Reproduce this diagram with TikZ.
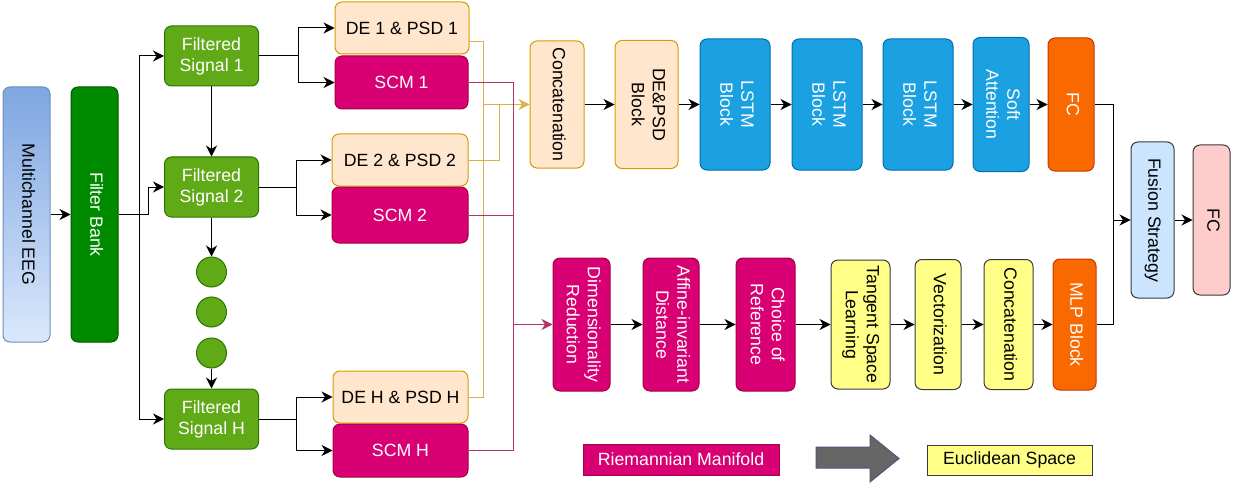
\documentclass[tikz,border=0pt]{standalone}
\usepackage{fontspec}
\setmainfont{Liberation Sans}
\usepackage{graphicx}
\usepackage{tikz}
\usetikzlibrary{arrows.meta}

\definecolor{eegtop}{HTML}{7EA6E0}
\definecolor{eegbottom}{HTML}{DAE8FC}
\definecolor{eegline}{HTML}{6C8EBF}
\definecolor{bankfill}{HTML}{008A00}
\definecolor{bankline}{HTML}{005700}
\definecolor{sigfill}{HTML}{60A917}
\definecolor{sigline}{HTML}{2D7600}
\definecolor{defill}{HTML}{FFE6CC}
\definecolor{deline}{HTML}{D79B00}
\definecolor{scmfill}{HTML}{D80073}
\definecolor{scmline}{HTML}{A50040}
\definecolor{scmwire}{HTML}{B8306E}
\definecolor{lstmfill}{HTML}{1BA1E2}
\definecolor{lstmline}{HTML}{006EAF}
\definecolor{fcfill}{HTML}{FA6800}
\definecolor{fcline}{HTML}{C73500}
\definecolor{fusionfill}{HTML}{CCE5FF}
\definecolor{outfill}{HTML}{FFCCCC}
\definecolor{darkline}{HTML}{36393D}
\definecolor{eucfill}{HTML}{FFFF88}
\definecolor{goldline}{HTML}{DDB04C}
\definecolor{legendgray}{HTML}{666666}
\definecolor{legendline}{HTML}{56517E}

\newcommand{\vtext}[1]{\rotatebox{-90}{\begin{tabular}{@{}c@{}}#1\end{tabular}}}

\tikzset{
  boxsize/.style 2 args={minimum width=#1, minimum height=#2},
  block/.style={draw, line width=1pt, rounded corners=7pt, inner sep=0pt,
    align=center, font=\fontsize{17.7}{21}\selectfont},
  eegblock/.style={block, top color=eegtop, bottom color=eegbottom, draw=eegline},
  bankblock/.style={block, fill=bankfill, draw=bankline, text=white},
  sigblock/.style={block, fill=sigfill, draw=sigline, text=white},
  sigdot/.style={circle, draw=sigline, fill=sigfill, line width=1pt,
    minimum size=30pt, inner sep=0pt},
  deblock/.style={block, fill=defill, draw=deline},
  scmblock/.style={block, fill=scmfill, draw=scmline, text=white},
  lstmblock/.style={block, fill=lstmfill, draw=lstmline, text=white},
  fcblock/.style={block, fill=fcfill, draw=fcline, text=white},
  fusionblock/.style={block, fill=fusionfill, draw=darkline},
  outblock/.style={block, fill=outfill, draw=darkline},
  eucblock/.style={block, fill=eucfill, draw=darkline},
  legendbox/.style={block, rounded corners=0pt},
  conn/.style={line width=1pt},
  arr/.style={conn, -{Stealth[length=11pt, width=11pt, inset=3.5pt]}},
  goldconn/.style={conn, draw=goldline},
  goldarr/.style={goldconn, -{Stealth[length=11pt, width=11pt, inset=3.5pt]}},
  scmconn/.style={conn, draw=scmwire},
  scmarr/.style={scmconn, -{Stealth[length=11pt, width=11pt, inset=3.5pt]}},
}

\begin{document}
\begin{tikzpicture}[x=1pt, y=-1pt]
  \useasboundingbox (0,0) rectangle (1234,484);

  % input and filter bank
  \node[eegblock, boxsize={47pt}{255pt}] (eeg) at (26.5,214.5) {\vtext{Multichannel EEG}};
  \node[bankblock, boxsize={47pt}{255pt}] (bank) at (94.5,214.5) {\vtext{Filter Bank}};

  % filtered signals
  \node[sigblock, boxsize={94pt}{60pt}] (sig1) at (211.5,56) {Filtered\\Signal 1};
  \node[sigblock, boxsize={94pt}{60pt}] (sig2) at (211.5,187) {Filtered\\Signal 2};
  \node[sigblock, boxsize={94pt}{60pt}] (sigH) at (211.5,419) {Filtered\\Signal H};
  \node[sigdot] (dotA) at (211.5,272) {};
  \node[sigdot] (dotB) at (211.5,312) {};
  \node[sigdot] (dotC) at (211.5,353) {};

  % features per band
  \node[deblock, boxsize={134pt}{52pt}] (de1) at (402,28) {DE 1 \& PSD 1};
  \node[scmblock, boxsize={133pt}{53pt}] (scm1) at (401.5,82.5) {SCM 1};
  \node[deblock, boxsize={136pt}{52pt}] (de2) at (400,160) {DE 2 \& PSD 2};
  \node[scmblock, boxsize={136pt}{56pt}] (scm2) at (400,215) {SCM 2};
  \node[deblock, boxsize={135pt}{52pt}] (deH) at (400.5,397) {DE H \& PSD H};
  \node[scmblock, boxsize={135pt}{53pt}] (scmH) at (400.5,450.5) {SCM H};

  % upper branch
  \node[deblock, boxsize={54pt}{127pt}] (concatDE) at (557,104.5) {\vtext{Concatenation}};
  \node[deblock, boxsize={63pt}{128pt}] (depsd) at (646.5,104.5) {\vtext{DE\&PSD\\Block}};
  \node[lstmblock, boxsize={70pt}{131pt}] (lstm1) at (735,104.5) {\vtext{LSTM\\Block}};
  \node[lstmblock, boxsize={70pt}{131pt}] (lstm2) at (827,104.5) {\vtext{LSTM\\Block}};
  \node[lstmblock, boxsize={70pt}{131pt}] (lstm3) at (918,104.5) {\vtext{LSTM\\Block}};
  \node[lstmblock, boxsize={56pt}{134pt}] (soft) at (1001,104.5) {\vtext{Soft\\Attention}};
  \node[fcblock, boxsize={46pt}{133pt}] (fcTop) at (1071,104.5) {\vtext{FC}};

  % lower branch
  \node[scmblock, boxsize={57pt}{133pt}] (dimred) at (581.5,324.5) {\vtext{Dimensionality\\Reduction}};
  \node[scmblock, boxsize={56pt}{133pt}] (affine) at (671,324.5) {\vtext{Affine-invariant\\Distance}};
  \node[scmblock, boxsize={59pt}{133pt}] (choice) at (765.5,324.5) {\vtext{Choice of\\Reference}};
  \node[eucblock, boxsize={59pt}{129pt}] (tangent) at (860.5,324.5) {\vtext{Tangent Space\\Learning}};
  \node[eucblock, boxsize={46pt}{130pt}] (vector) at (938,324.5) {\vtext{Vectorization}};
  \node[eucblock, boxsize={49pt}{130pt}] (concatSCM) at (1008.5,324.5) {\vtext{Concatenation}};
  \node[fcblock, boxsize={43pt}{131pt}] (mlp) at (1074.5,324.5) {\vtext{MLP Block}};

  % fusion
  \node[fusionblock, boxsize={43pt}{156pt}] (fusion) at (1152.5,220) {\vtext{Fusion Strategy}};
  \node[outblock, boxsize={37pt}{150pt}] (fcOut) at (1211.5,220) {\vtext{FC}};

  % legend
  \node[legendbox, fill=scmfill, draw=scmline, text=white, boxsize={196pt}{31pt}] (riem) at (681,459.5) {Riemannian Manifold};
  \node[legendbox, fill=eucfill, draw=darkline, boxsize={165pt}{30pt}] (eucl) at (1009.5,460) {Euclidean Space};
  \draw[fill=legendgray, draw=legendline, line width=1pt]
    (816,447) -- (870,447) -- (870,435) -- (899,458.5) -- (870,482) -- (870,468) -- (816,468) -- cycle;

  % junctions
  \coordinate (goldjoin) at (483,104.5);
  \coordinate (goldjoin2) at (499,104.5);
  \coordinate (scmjoin) at (513,324.5);
  \coordinate (fusejoin) at (1113,220);

  % connectors
  \draw[arr] (eeg) -- (bank);
  \draw[arr] (bank.east) -- ++(21,0) |- (sig1);
  \draw[arr] (bank.east) -- ++(21,0) |- (sigH);
  \draw[arr] (bank.east) -- ++(30,0) |- (sig2);
  \draw[arr] (sig1) -- (sig2);
  \draw[arr] (sig2) -- (dotA);
  \draw[arr] (dotC) -- (sigH);
  \draw[arr] (sig1.east) -- ++(39,0) |- (de1);
  \draw[arr] (sig1.east) -- ++(39,0) |- (scm1);
  \draw[arr] (sig2.east) -- ++(37,0) |- (de2);
  \draw[arr] (sig2.east) -- ++(37,0) |- (scm2);
  \draw[arr] (sigH.east) -- ++(37,0) |- (deH);
  \draw[arr] (sigH.east) -- ++(37,0) |- (scmH);

  \draw[goldconn] ([yshift=-14pt]de1.east) -| (goldjoin);
  \draw[goldconn] (deH.east) -| (goldjoin);
  \draw[goldconn] (de2.east) -| (goldjoin2);
  \draw[goldarr] (goldjoin) -- (concatDE);

  \draw[scmconn] (scm1.east) -| (scmjoin);
  \draw[scmconn] (scm2.east) -| (scmjoin);
  \draw[scmconn] (scmH.east) -| (scmjoin);
  \draw[scmarr] (scmjoin) -- (dimred);

  \draw[arr] (concatDE) -- (depsd);
  \draw[arr] (depsd) -- (lstm1);
  \draw[arr] (lstm1) -- (lstm2);
  \draw[arr] (lstm2) -- (lstm3);
  \draw[arr] (lstm3) -- (soft);
  \draw[arr] (soft) -- (fcTop);

  \draw[arr] (dimred) -- (affine);
  \draw[arr] (affine) -- (choice);
  \draw[arr] (choice) -- (tangent);
  \draw[arr] (tangent) -- (vector);
  \draw[arr] (vector) -- (concatSCM);
  \draw[arr] (concatSCM) -- (mlp);

  \draw[arr] (fcTop.east) -| (fusejoin) -- (fusion);
  \draw[conn] (mlp.east) -| (fusejoin);
  \draw[arr] (fusion) -- (fcOut);
\end{tikzpicture}
\end{document}
